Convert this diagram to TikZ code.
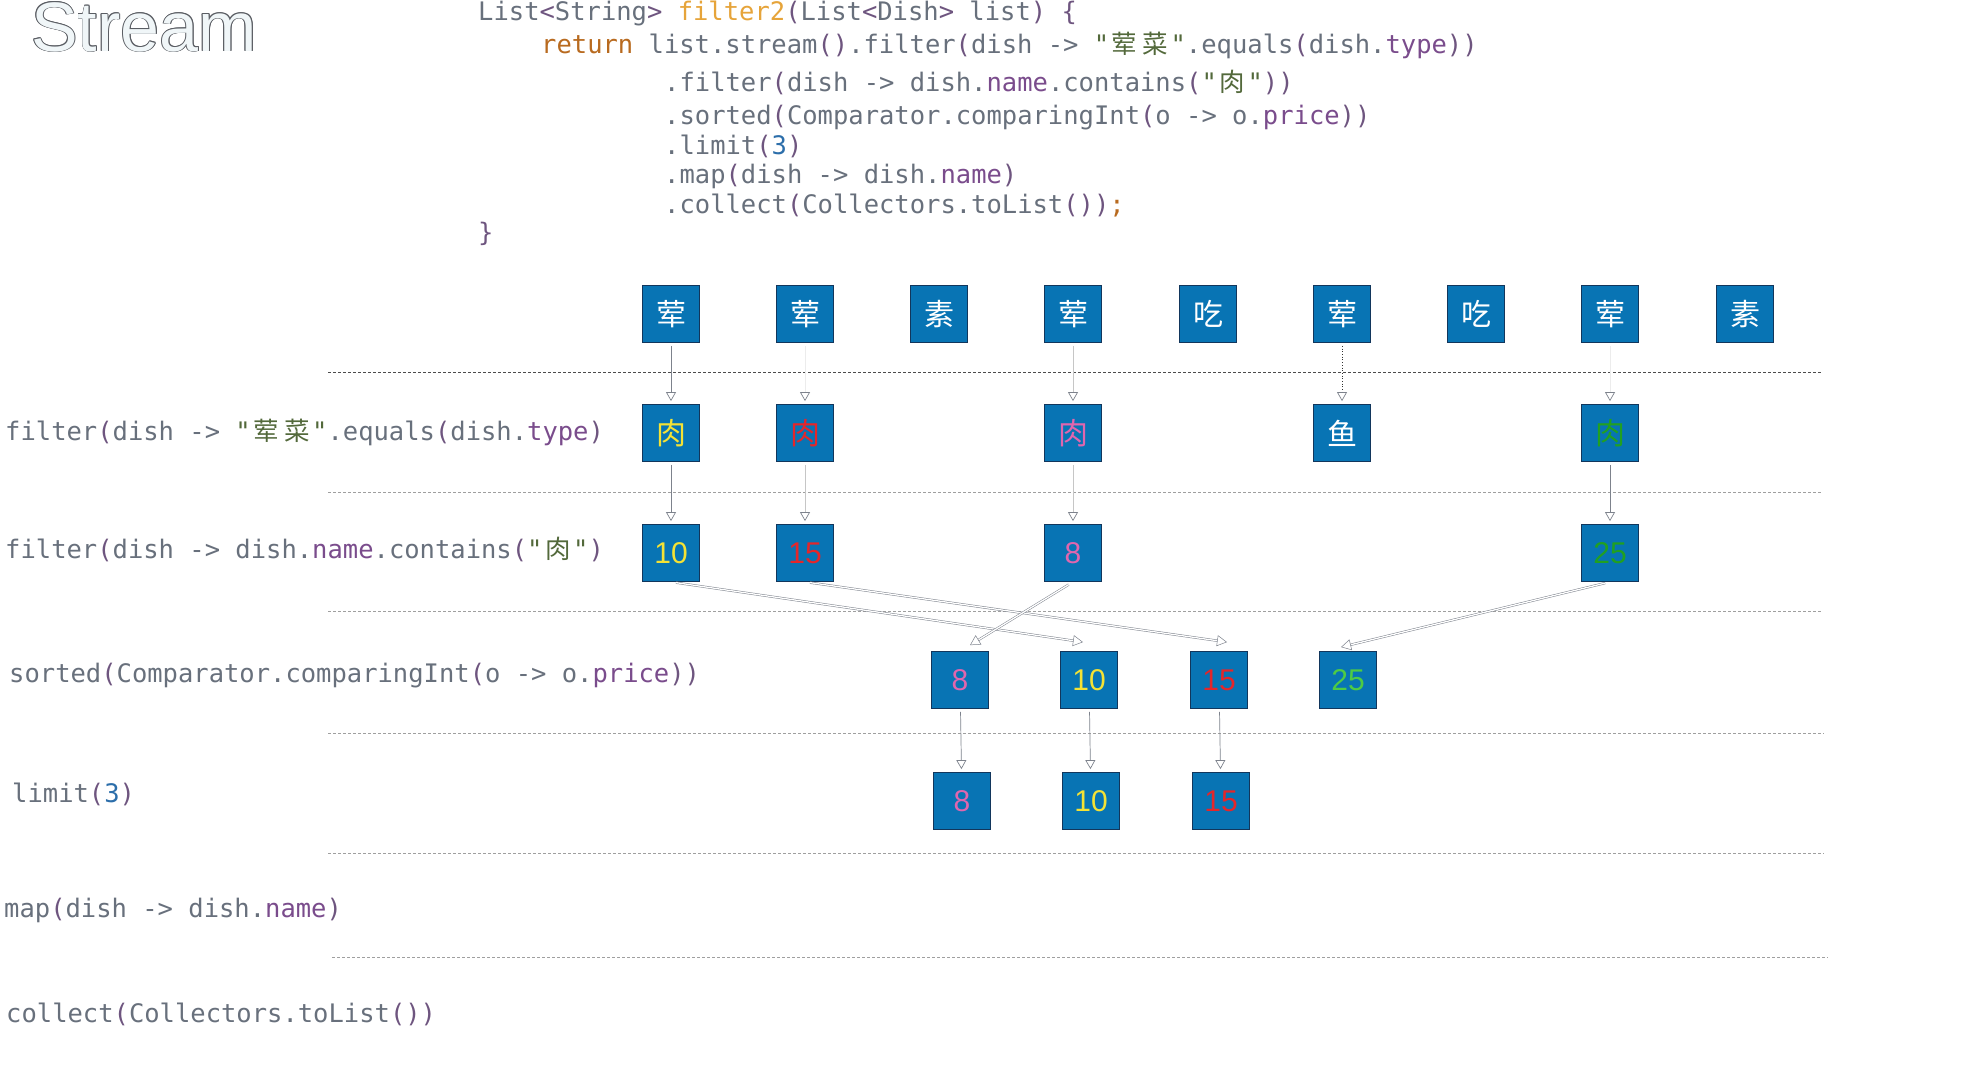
\documentclass[tikz,border=0pt]{standalone}
\usepackage{fontspec}
\usepackage{xcolor}
\setmainfont{Liberation Sans}
\setmonofont{DejaVu Sans Mono}
\newfontfamily\cjk{Noto Sans CJK SC}
\usetikzlibrary{arrows.meta}
\definecolor{boxblue}{HTML}{0874B4}
\definecolor{boxedge}{HTML}{12365C}
\definecolor{cgray}{HTML}{68707C}
\definecolor{cpur}{HTML}{6E557F}
\definecolor{cret}{HTML}{B86A1F}
\definecolor{cfn}{HTML}{E6A43A}
\definecolor{cstr}{HTML}{53693B}
\definecolor{cfld}{HTML}{7A4C8C}
\definecolor{cnum}{HTML}{2C6EAA}
\definecolor{tyel}{HTML}{F4E235}
\definecolor{tred}{HTML}{E4262A}
\definecolor{tpink}{HTML}{E066AE}
\definecolor{tgreen}{HTML}{21A021}
\definecolor{tlgreen}{HTML}{4ECB44}
\definecolor{arrgray}{HTML}{7D828C}
\definecolor{titlefill}{HTML}{F0F6F8}
\definecolor{titleedge}{HTML}{5A5D63}
\newcommand\xpu[1]{\textcolor{cpur}{#1}}
\newcommand\xkw[1]{\textcolor{cret}{#1}}
\newcommand\xfn[1]{\textcolor{cfn}{#1}}
\newcommand\xst[1]{\textcolor{cstr}{#1}}
\newcommand\xfd[1]{\textcolor{cfld}{#1}}
\newcommand\xnm[1]{\textcolor{cnum}{#1}}
\newcommand\xcj[1]{\makebox[1.204em]{\cjk #1}}
\newcommand\xoutcopy[3]{\rlap{\kern#1\raisebox{#2}{\textcolor{titleedge}{#3}}}}
\newcommand\xoutline[1]{%
  \xoutcopy{0.8pt}{0pt}{#1}\xoutcopy{-0.8pt}{0pt}{#1}%
  \xoutcopy{0pt}{0.8pt}{#1}\xoutcopy{0pt}{-0.8pt}{#1}%
  \xoutcopy{0.55pt}{0.55pt}{#1}\xoutcopy{-0.55pt}{0.55pt}{#1}%
  \xoutcopy{0.55pt}{-0.55pt}{#1}\xoutcopy{-0.55pt}{-0.55pt}{#1}%
  \textcolor{titlefill}{#1}}
\begin{document}
\begin{tikzpicture}[x=1pt,y=-1pt,
  code/.style={anchor=base west, inner sep=0pt, text=cgray, font=\ttfamily\fontsize{25.5}{30}\selectfont},
  bx/.style={rectangle, fill=boxblue, draw=boxedge, line width=0.8pt, minimum width=57pt, minimum height=57pt, inner sep=0pt, font=\fontsize{30}{30}\selectfont},
  sep/.style={draw=gray!75, line width=0.6pt, dash pattern=on 3pt off 2pt},
  tip/.style={-{Triangle[open, width=10pt, length=9pt, color=arrgray]}},
  varr/.style={tip, draw=arrgray, line width=0.7pt, shorten <=3pt, shorten >=3pt},
  faint/.style={tip, draw=gray!15, line width=0.7pt, shorten <=3pt, shorten >=3pt},
  lightarr/.style={tip, draw=gray!45, line width=0.7pt, shorten <=3pt, shorten >=3pt},
  dotarr/.style={tip, draw=black!80, line width=0.7pt, dotted, shorten <=3pt, shorten >=3pt},
  dbl/.style={draw=arrgray, double=white, double distance=1.3pt, line width=0.5pt, -{Triangle[open, width=11pt, length=10pt]}, shorten <=5pt}
]
\useasboundingbox (0,0) rectangle (1964,1080);

% title
\node (title) [anchor=base west, inner sep=0pt, font=\fontsize{70}{70}\selectfont] at (31,51)
  {\xoutline{Stream}};

% code listing
\node (c1) [code] at (478,20) {List\xpu{<}String\xpu{>} \xfn{filter2}\xpu{(}List\xpu{<}Dish\xpu{>} list\xpu{)} \xpu{\{}};
\node (c2) [code] at (541,53) {\xkw{return} list.stream\xpu{()}.filter\xpu{(}dish -> \xst{"\xcj{荤}\xcj{菜}"}.equals\xpu{(}dish.\xfd{type}\xpu{))}};
\node (c3) [code] at (664,91) {.filter\xpu{(}dish -> dish.\xfd{name}.contains\xpu{(}\xst{"\xcj{肉}"}\xpu{))}};
\node (c4) [code] at (664,124) {.sorted\xpu{(}Comparator.comparingInt\xpu{(}o -> o.\xfd{price}\xpu{))}};
\node (c5) [code] at (664,154) {.limit\xpu{(}\xnm{3}\xpu{)}};
\node (c6) [code] at (664,183) {.map\xpu{(}dish -> dish.\xfd{name}\xpu{)}};
\node (c7) [code] at (664,213) {.collect\xpu{(}Collectors.toList\xpu{())}\xkw{;}};
\node (c8) [code] at (478,241) {\xpu{\}}};

% left labels
\node (l1) [code] at (5,440) {filter\xpu{(}dish -> \xst{"\xcj{荤}\xcj{菜}"}.equals\xpu{(}dish.\xfd{type}\xpu{)}};
\node (l2) [code] at (5,558) {filter\xpu{(}dish -> dish.\xfd{name}.contains\xpu{(}\xst{"\xcj{肉}"}\xpu{)}};
\node (l3) [code] at (9,682) {sorted\xpu{(}Comparator.comparingInt\xpu{(}o -> o.\xfd{price}\xpu{))}};
\node (l4) [code] at (12,802) {limit\xpu{(}\xnm{3}\xpu{)}};
\node (l5) [code] at (4,917) {map\xpu{(}dish -> dish.\xfd{name}\xpu{)}};
\node (l6) [code] at (6,1022) {collect\xpu{(}Collectors.toList\xpu{())}};

% separators
\draw[sep, draw=black!70] (328,372) -- (1822,372);
\draw[sep] (328,492) -- (1822,492);
\draw[sep] (328,611) -- (1822,611);
\draw[sep] (328,733) -- (1824,733);
\draw[sep] (328,853) -- (1824,853);
\draw[sep] (332,957) -- (1828,957);

% row 1
\node (a1) [bx, text=white] at (671,314) {\cjk 荤};
\node (a2) [bx, text=white] at (805,314) {\cjk 荤};
\node (a3) [bx, text=white] at (939,314) {\cjk 素};
\node (a4) [bx, text=white] at (1073,314) {\cjk 荤};
\node (a5) [bx, text=white] at (1208,314) {\cjk 吃};
\node (a6) [bx, text=white] at (1342,314) {\cjk 荤};
\node (a7) [bx, text=white] at (1476,314) {\cjk 吃};
\node (a8) [bx, text=white] at (1610,314) {\cjk 荤};
\node (a9) [bx, text=white] at (1745,314) {\cjk 素};

% row 2
\node (b1) [bx, text=tyel] at (671,433) {\cjk 肉};
\node (b2) [bx, text=tred] at (805,433) {\cjk 肉};
\node (b4) [bx, text=tpink] at (1073,433) {\cjk 肉};
\node (b6) [bx, text=white] at (1342,433) {\cjk 鱼};
\node (b8) [bx, text=tgreen] at (1610,433) {\cjk 肉};

% row 3
\node (d1) [bx, text=tyel] at (671,553) {10};
\node (d2) [bx, text=tred] at (805,553) {15};
\node (d4) [bx, text=tpink] at (1073,553) {8};
\node (d8) [bx, text=tgreen] at (1610,553) {25};

% row 4
\node (e1) [bx, text=tpink] at (960,680) {8};
\node (e2) [bx, text=tyel] at (1089,680) {10};
\node (e3) [bx, text=tred] at (1219,680) {15};
\node (e4) [bx, text=tlgreen] at (1348,680) {25};

% row 5
\node (f1) [bx, text=tpink] at (962,801) {8};
\node (f2) [bx, text=tyel] at (1091,801) {10};
\node (f3) [bx, text=tred] at (1221,801) {15};

% arrows row 1 -> 2
\draw[varr] (a1) -- (b1);
\draw[faint] (a2) -- (b2);
\draw[lightarr] (a4) -- (b4);
\draw[dotarr] (a6) -- (b6);
\draw[faint] (a8) -- (b8);

% arrows row 2 -> 3
\draw[varr] (b1) -- (d1);
\draw[lightarr] (b2) -- (d2);
\draw[lightarr] (b4) -- (d4);
\draw[varr] (b8) -- (d8);

% sorted arrows
\draw[dbl] (d1.south) -- ([xshift=-6pt,yshift=9pt]e2.north);
\draw[dbl] (d2.south) -- ([xshift=8pt,yshift=9pt]e3.north);
\draw[dbl] (d4.south) -- ([xshift=10pt,yshift=6pt]e1.north);
\draw[dbl] (d8.south) -- ([xshift=-7pt,yshift=4pt]e4.north);

% limit arrows
\draw[varr] (e1) -- (f1);
\draw[varr] (e2) -- (f2);
\draw[varr] (e3) -- (f3);
\end{tikzpicture}
\end{document}
